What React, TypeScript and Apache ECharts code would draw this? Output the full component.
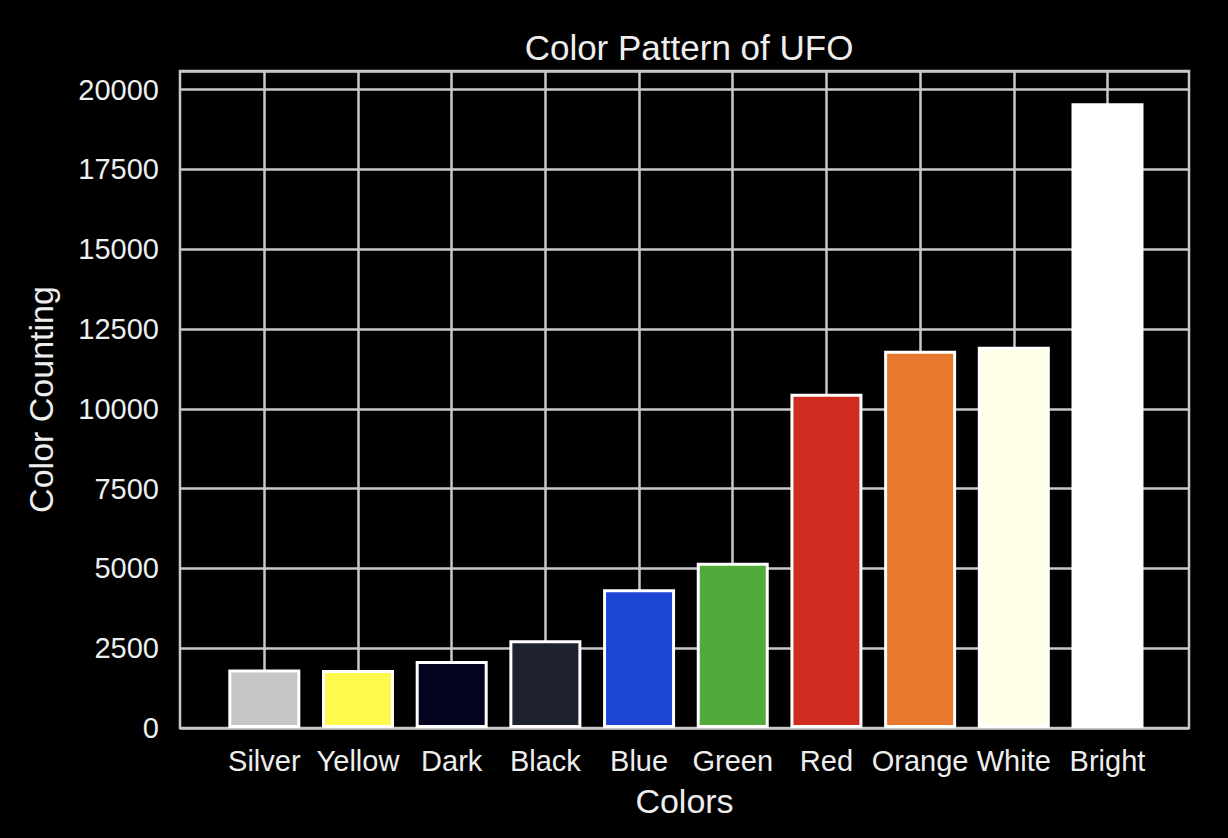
import React, { useEffect, useRef } from "react";
import * as echarts from "echarts";

const categories = ["Silver", "Yellow", "Dark", "Black", "Blue", "Green", "Red", "Orange", "White", "Bright"];
const counts = [1830, 1820, 2100, 2750, 4350, 5180, 10470, 11820, 11940, 19570];
const barColors = ["#c6c7c5", "#fdfa4d", "#03031f", "#1e2230", "#1c45d6", "#51aa3b", "#d02b1f", "#e7792f", "#fffee9", "#ffffff"];
const yTicks = [0, 2500, 5000, 7500, 10000, 12500, 15000, 17500, 20000];
const positions = categories.map((_, i) => i);

const FONT = "'Liberation Sans', Arial, sans-serif";
const TEXT = "#eeeeee";
const GRID = "#c8c8c8";

export default function App() {
  const ref = useRef<HTMLDivElement>(null);
  useEffect(() => {
    document.body.style.margin = "0";
    document.body.style.background = "#000";
    const chart = echarts.init(ref.current!, null, { renderer: "svg" });
    chart.setOption({
      animation: false,
      backgroundColor: "#000000",
      title: {
        text: "Color Pattern of UFO",
        left: 684,
        textAlign: "center",
        top: 25,
        textStyle: { color: TEXT, fontFamily: FONT, fontSize: 35, fontWeight: "normal" },
      },
      grid: {
        left: 180,
        right: 39,
        top: 71,
        bottom: 110,
        show: true,
        borderColor: GRID,
        borderWidth: 2.5,
        backgroundColor: "transparent",
      },
      xAxis: {
        type: "value",
        min: -0.9,
        max: 9.87,
        name: "Colors",
        nameLocation: "middle",
        nameGap: 56,
        nameTextStyle: { color: TEXT, fontFamily: FONT, fontSize: 34 },
        axisLine: { show: false },
        axisTick: { show: false, customValues: positions },
        axisLabel: {
          customValues: positions,
          formatter: (v: number) => categories[Math.round(v)] ?? "",
          color: TEXT,
          fontFamily: FONT,
          fontSize: 29,
          margin: 18,
        },
        splitLine: { show: true, lineStyle: { color: GRID, width: 2.5 } },
      },
      yAxis: {
        type: "value",
        min: 0,
        max: 20580,
        interval: 2500,
        name: "Color Counting",
        nameLocation: "middle",
        nameGap: 122,
        nameTextStyle: { color: TEXT, fontFamily: FONT, fontSize: 34 },
        axisLine: { show: false },
        axisTick: { show: false },
        axisLabel: {
          showMaxLabel: false,
          formatter: (v: number) => (yTicks.includes(v) ? String(v) : ""),
          color: TEXT,
          fontFamily: FONT,
          fontSize: 29,
          margin: 21,
        },
        splitLine: { show: true, lineStyle: { color: GRID, width: 2.5 } },
      },
      series: [
        {
          type: "bar",
          barWidth: 72,
          data: counts.map((v, i) => ({
            value: [positions[i], v],
            itemStyle: { color: barColors[i], borderColor: "#ffffff", borderWidth: 3 },
          })),
        },
      ],
    });
    return () => chart.dispose();
  }, []);
  return <div ref={ref} style={{ position: "absolute", left: 0, top: 0, width: 1228, height: 838 }} />;
}
